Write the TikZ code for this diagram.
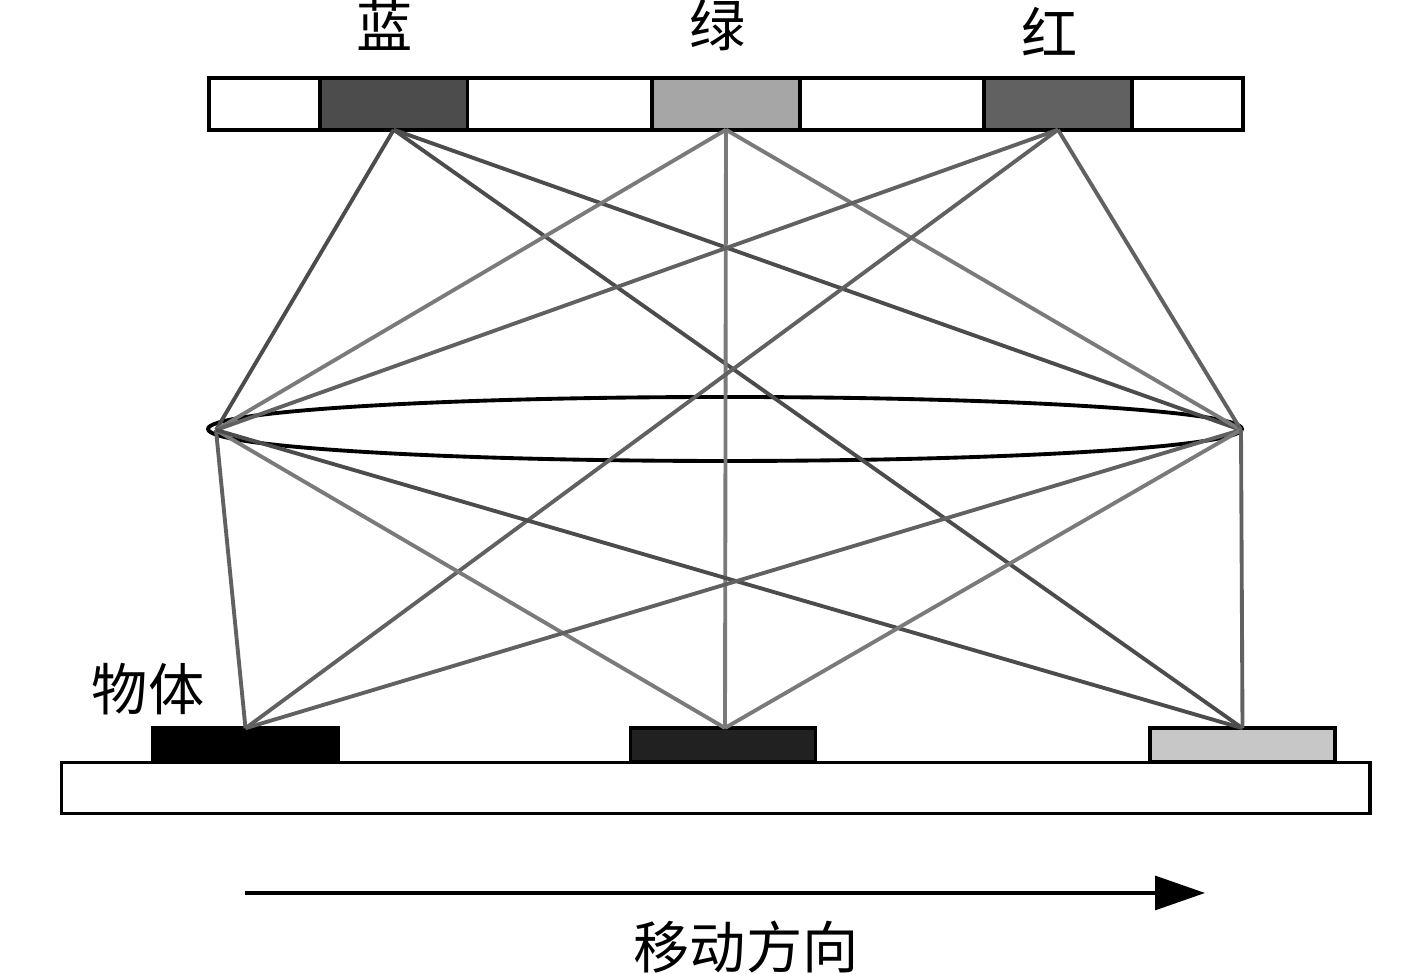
\documentclass[tikz,border=0pt]{standalone}
\usepackage{fontspec}
\usetikzlibrary{arrows.meta, shapes.geometric}
\newfontfamily\cjk{Noto Sans CJK SC}

\begin{document}
\begin{tikzpicture}[
    >={Triangle[length=0.5cm, width=0.34cm]},
    % Boxes of the filter bar and the stage
    cellbox/.style={draw=black, line width=1.1pt, inner sep=0pt, outer sep=0pt, minimum height=0.515cm},
    objbox/.style={draw=black, line width=1.1pt, inner sep=0pt, outer sep=0pt, minimum height=0.335cm, minimum width=1.85cm},
    % Rays in three shades of grey
    raydark/.style={line width=1.1pt, draw=black!70},
    raymid/.style={line width=1.1pt, draw=black!62},
    raylight/.style={line width=1.1pt, draw=black!52},
    labeltext/.style={font=\cjk\fontsize{16}{16}\selectfont, inner sep=0pt}
]
\useasboundingbox (0,0) rectangle (14.17,9.74);

% 1. Filter bar with the three colour cells
\node[cellbox, minimum width=10.34cm] (bar) at (7.26, 8.70) {};
\node[cellbox, fill=black!70, minimum width=1.475cm] (blue) at (3.937, 8.70) {};
\node[cellbox, fill=black!35, minimum width=1.475cm] (green) at (7.26, 8.70) {};
\node[cellbox, fill=black!62, minimum width=1.475cm] (red) at (10.58, 8.70) {};

% Colour names above the bar
\node[labeltext] (bluetext) at (3.85, 9.49) {蓝};
\node[labeltext] (greentext) at (7.18, 9.49) {绿};
\node[labeltext] (redtext) at (10.50, 9.42) {红};

% 2. Lens and its two edge points
\node[ellipse, draw=black, line width=1.1pt, inner sep=0pt, minimum width=10.34cm, minimum height=0.64cm] (lens) at (7.25, 5.45) {};
\coordinate (lensl) at (2.16, 5.44);
\coordinate (lensr) at (12.41, 5.44);

% 3. Stage and the three objects on it
\node[draw=black, line width=1.1pt, inner sep=0pt, minimum width=13.085cm, minimum height=0.51cm] (stage) at (7.157, 1.86) {};
\node[objbox, fill=black] (obja) at (2.455, 2.29) {};
\node[objbox, fill=black!87] (objb) at (7.23, 2.29) {};
\node[objbox, fill=black!22] (objc) at (12.425, 2.29) {};
\coordinate (objbtop) at (7.25, 2.46);
\node[labeltext] (objtext) at (1.48, 2.85) {物体};

% 4. Rays
\foreach \i/\j/\k in {blue.south/lensl/raydark, blue.south/lensr/raydark, blue.south/objc.north/raydark,
                      green.south/lensl/raylight, green.south/lensr/raylight, green.south/objbtop/raylight,
                      red.south/lensl/raymid, red.south/lensr/raymid, red.south/obja.north/raymid,
                      obja.north/lensl/raymid, objbtop/lensl/raylight, objc.north/lensl/raydark,
                      obja.north/lensr/raymid, objbtop/lensr/raylight, objc.north/lensr/raymid} {
    \draw[\k] (\i) -- (\j);
}

% 5. Direction of motion
\coordinate (movea) at (2.45, 0.81);
\coordinate (moveb) at (12.05, 0.81);
\draw[->, line width=0.9pt] (movea) -- (moveb);
\node[labeltext] (movetext) at (7.46, 0.27) {移动方向};
\end{tikzpicture}
\end{document}
